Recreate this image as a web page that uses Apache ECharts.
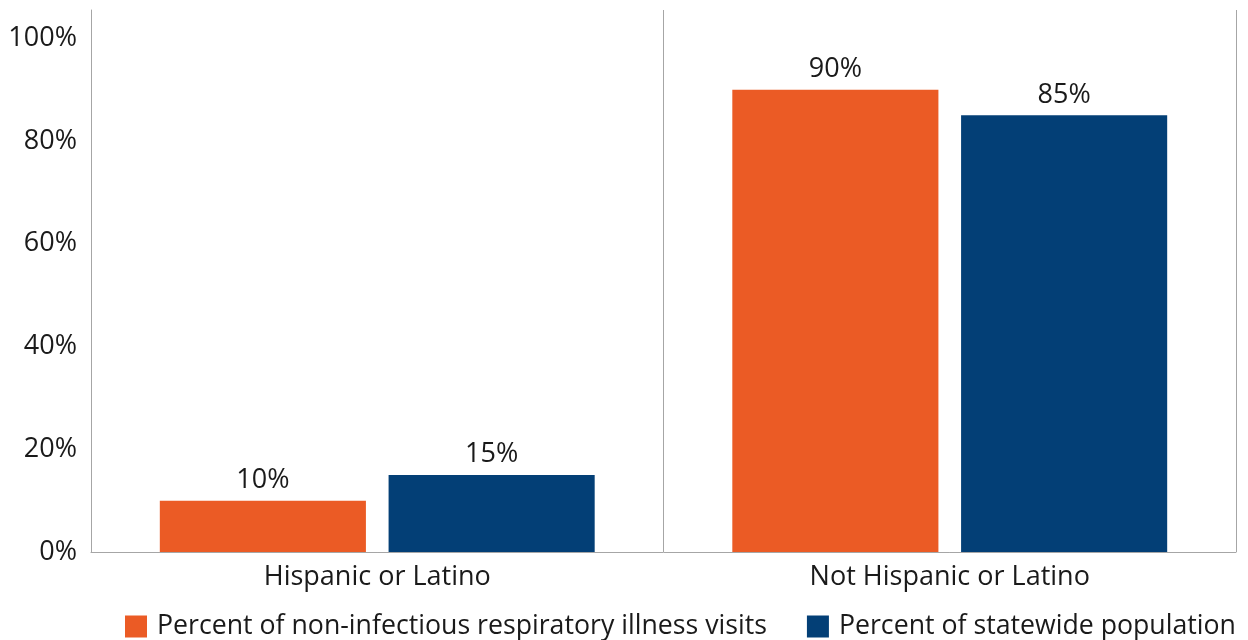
<!DOCTYPE html>
<html>
<head>
<meta charset="utf-8">
<script src="https://cdn.jsdelivr.net/npm/echarts@6/dist/echarts.min.js"></script>
<style>html,body{margin:0;padding:0;background:#fff}#c{width:1248px;height:640px}</style>
</head>
<body>
<div id="c"></div>
<script>
const categories = ['Hispanic or Latino', 'Not Hispanic or Latino'];
const seriesNames = ['Percent of non-infectious respiratory illness visits', 'Percent of statewide population'];
const visits = [10, 90];
const population = [15, 85];
const yTicks = [0, 20, 40, 60, 80, 100];

const font = 'Open Sans';
const fs = 27;
const chart = echarts.init(document.getElementById('c'));
chart.setOption({
  animation: false,
  textStyle: { fontFamily: font },
  grid: { left: 91, right: 12, top: 10, bottom: 88 },
  legend: {
    bottom: 0, left: 125, width: 1400, padding: 0, itemWidth: 22, itemHeight: 22, itemGap: 40,
    icon: 'rect',
    textStyle: { fontFamily: font, fontSize: 26.7, color: '#1a1a1a', padding: [0, 0, 0, 5] },
    data: seriesNames
  },
  xAxis: {
    type: 'category', data: categories,
    axisLine: { lineStyle: { color: '#a6a6a6', width: 1 } },
    axisTick: { show: false },
    splitLine: { show: true, interval: 0, lineStyle: { color: '#a6a6a6', width: 1 } },
    axisLabel: { fontFamily: font, fontSize: fs, color: '#1a1a1a', margin: 12 }
  },
  yAxis: {
    type: 'value', min: 0, max: 105.5, interval: 20,
    axisLine: { show: true, lineStyle: { color: '#a6a6a6', width: 1 } },
    axisTick: { show: false },
    splitLine: { show: false },
    axisLabel: {
      fontFamily: font, fontSize: fs, color: '#1a1a1a', margin: 14,
      formatter: v => yTicks.includes(v) ? v + '%' : ''
    }
  },
  series: [
    { name: seriesNames[0], type: 'bar', data: visits, barWidth: '36%', barGap: '11%',
      itemStyle: { color: '#EB5B25' },
      label: { show: true, position: 'top', distance: 7, formatter: p => p.value + '%', fontFamily: font, fontSize: fs, color: '#1a1a1a' } },
    { name: seriesNames[1], type: 'bar', data: population, barWidth: '36%', barGap: '11%',
      itemStyle: { color: '#033F76' },
      label: { show: true, position: 'top', distance: 7, formatter: p => p.value + '%', fontFamily: font, fontSize: fs, color: '#1a1a1a' } }
  ]
});
</script>
</body>
</html>
